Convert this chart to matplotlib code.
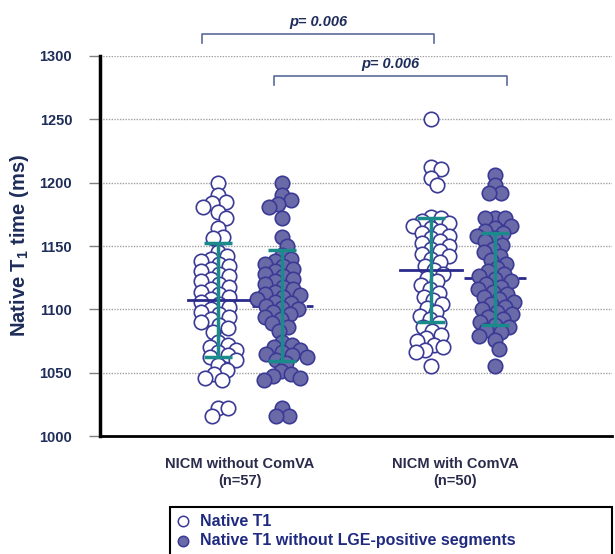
import numpy as np
import matplotlib
matplotlib.use('Agg')
import matplotlib.pyplot as plt
from matplotlib.lines import Line2D
from matplotlib.patches import Rectangle

plt.rcParams['font.family'] = ['Liberation Sans', 'DejaVu Sans']
plt.rcParams['mathtext.fontset'] = 'custom'
plt.rcParams['mathtext.rm'] = 'Liberation Sans:bold'
plt.rcParams['mathtext.bf'] = 'Liberation Sans:bold'

# T1 values (ms)
g1_native = [1200, 1190, 1185, 1184, 1181, 1177, 1172, 1164, 1157, 1156,
             1145, 1142, 1140, 1138, 1136, 1134, 1132, 1130, 1128, 1126,
             1124, 1122, 1120, 1118, 1116, 1114, 1112, 1110, 1108, 1106,
             1104, 1102, 1100, 1098, 1096, 1094, 1092, 1090, 1088, 1085,
             1082, 1074, 1072, 1070, 1068, 1066, 1064, 1062, 1060, 1056,
             1052, 1049, 1046, 1044, 1022, 1022, 1016]
g1_nolge = [1200, 1190, 1186, 1183, 1181, 1172, 1157, 1150,
            1143, 1140, 1138, 1136, 1134, 1132, 1130, 1128, 1126, 1124,
            1122, 1120, 1118, 1116, 1114, 1112, 1111, 1110, 1108, 1106,
            1105, 1103, 1101, 1100, 1098, 1096, 1094, 1092, 1089, 1086,
            1083, 1074, 1072, 1070, 1068, 1066, 1065, 1064, 1062, 1060,
            1058, 1051, 1049, 1047, 1046, 1044, 1022, 1016, 1016]
g2_native = [1250, 1212, 1211, 1204, 1198,
             1173, 1172, 1170, 1168, 1166, 1164, 1162, 1160, 1158, 1156,
             1154, 1152, 1150, 1148, 1146, 1144, 1142, 1140, 1137, 1134,
             1131, 1128, 1125, 1122, 1119, 1116, 1113, 1110, 1107, 1104,
             1101, 1098, 1095, 1092, 1089, 1086, 1083, 1080, 1077, 1075,
             1072, 1070, 1068, 1066, 1055]
g2_nolge = [1206, 1198, 1192, 1192, 1172, 1172, 1172,
            1166, 1164, 1162, 1160, 1158, 1156, 1154, 1151, 1148, 1145,
            1142, 1139, 1136, 1133, 1130, 1128, 1126, 1124, 1122, 1120,
            1118, 1116, 1114, 1112, 1110, 1108, 1106, 1104, 1102, 1100,
            1098, 1096, 1094, 1092, 1090, 1088, 1086, 1084, 1082, 1079,
            1076, 1069, 1055]

series = [g1_native, g1_nolge, g2_native, g2_nolge]
means = [1107, 1103, 1131, 1125]
err_lo = [1062, 1059, 1090, 1088]
err_hi = [1152, 1147, 1172, 1160]

groups = ['NICM without ComVA\n(n=57)', 'NICM with ComVA\n(n=50)']
legend_labels = ['Native T1', 'Native T1 without LGE-positive segments']
p_labels = ['p= 0.006', 'p= 0.006']

navy = '#1f2d5a'
edge = '#3a3a96'
fill = '#6a6aa8'
teal = '#1b8a8a'

xpos = [1.85, 2.85, 5.17, 6.17]
px_x = 64.0      # pixels per x unit
px_y = 380 / 300.  # pixels per ms
diam = 14.5


def swarm(vals, d=diam * 0.68):
    # simple beeswarm, works in pixel space
    ys = np.sort(np.asarray(vals, float))[::-1] * px_y
    placed = []
    offs = []
    for y in ys:
        cands = [0.0]
        for (xo, yo) in placed:
            dy = abs(y - yo)
            if dy < d:
                dx = np.sqrt(d * d - dy * dy)
                cands += [xo + dx, xo - dx]
        cands.sort(key=abs)
        for c in cands:
            ok = True
            for (xo, yo) in placed:
                if (c - xo) ** 2 + (y - yo) ** 2 < d * d - 1e-6:
                    ok = False
                    break
            if ok:
                break
        placed.append((c, y))
        offs.append(c)
    return np.array(offs) / px_x, ys / px_y


fig = plt.figure(figsize=(6.15, 5.54), dpi=100)
ax = fig.add_axes([100 / 615., 1 - 436 / 554., 512 / 615., 380 / 554.])

ax.set_ylim(1000, 1300)
ax.set_xlim(0, 8)
ax.set_yticks([1000, 1050, 1100, 1150, 1200, 1250, 1300])
ax.set_xticks([])
for v in [1050, 1100, 1150, 1200, 1250, 1300]:
    ax.axhline(v, color='#a0a0a0', lw=1, ls=(0, (1, 1)), zorder=0)

for i, vals in enumerate(series):
    dx, ys = swarm(vals)
    if i % 2 == 0:
        ax.scatter(xpos[i] + dx, ys, s=108, facecolor='white', edgecolor=edge,
                   linewidth=1.2, zorder=3)
        ax.plot([xpos[i] - 0.48, xpos[i] + 0.48], [means[i]] * 2, color='#2a2a8c',
                lw=2, zorder=4)
    else:
        ax.plot([xpos[i] - 0.48, xpos[i] + 0.48], [means[i]] * 2, color='#2a2a8c',
                lw=2, ls=(0, (4, 2.5)), zorder=2)
        ax.scatter(xpos[i] + dx, ys, s=108, facecolor=fill, edgecolor=edge,
                   linewidth=1.2, zorder=3)
    ax.errorbar(xpos[i], means[i],
                yerr=[[means[i] - err_lo[i]], [err_hi[i] - means[i]]],
                fmt='none', ecolor=teal, elinewidth=2.5, capsize=10, capthick=2.5,
                zorder=5)

# significance brackets
brackets = [(1.59, 5.22, 1317, 1310), (2.72, 6.36, 1284, 1277)]
for (x0, x1, top, low), lab in zip(brackets, p_labels):
    ax.plot([x0, x0, x1, x1], [low, top, top, low], color='#5a6a9a', lw=1.2,
            clip_on=False)
    ax.text((x0 + x1) / 2, top + 4, lab, ha='center', va='bottom', fontsize=10.5,
            fontweight='bold', style='italic', color=navy)

for sp in ['top', 'right']:
    ax.spines[sp].set_visible(False)
ax.spines['left'].set_linewidth(2.5)
ax.spines['bottom'].set_linewidth(2)
ax.tick_params(axis='y', length=8, width=1, color='#808080', pad=12,
               labelsize=10.5, labelcolor=navy)
for t in ax.get_yticklabels():
    t.set_fontweight('bold')
ax.set_ylabel('Native T$_1$ time (ms)', fontsize=14.5, fontweight='bold', color=navy,
              labelpad=6)

gx = [(240 - 100) / 512., (455 - 100) / 512.]
for x, lab in zip(gx, groups):
    ax.text(x, -0.055, lab, transform=ax.transAxes, ha='center', va='top',
            fontsize=10.5, fontweight='bold', color='#2b2b4b', linespacing=1.3)

# legend box
fig.add_artist(Rectangle((170 / 615., -0.02), 442 / 615., 0.02 + 47 / 554.,
                         transform=fig.transFigure, facecolor='white',
                         edgecolor='black', lw=1.5))
fig.add_artist(Line2D([183 / 615.], [1 - 521 / 554.], marker='o', ms=7.5,
                      mfc='white', mec=edge, mew=1.1, transform=fig.transFigure))
fig.add_artist(Line2D([183 / 615.], [1 - 541 / 554.], marker='o', ms=7.5,
                      mfc=fill, mec=edge, mew=1.1, transform=fig.transFigure))
for yy, lab in zip([521, 541], legend_labels):
    fig.text(200 / 615., 1 - yy / 554., lab, ha='left', va='center', fontsize=11.5,
             fontweight='bold', color='#1f2a80')

fig.savefig('out.png', dpi=100)
